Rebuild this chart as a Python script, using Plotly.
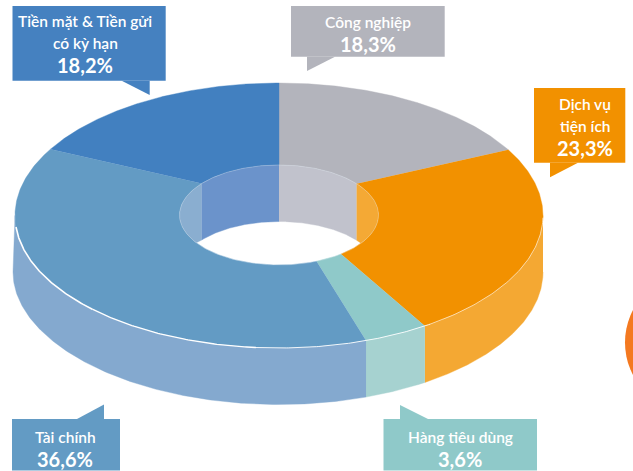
import numpy as np
import plotly.graph_objects as go

# Portfolio structure by sector (%)
categories = ["Công nghiệp", "Dịch vụ tiện ích", "Hàng tiêu dùng", "Tài chính", "Tiền mặt & Tiền gửi có kỳ hạn"]
shares = [18.3, 23.3, 3.6, 36.6, 18.2]
label_lines = [["Công nghiệp"], ["Dịch vụ", "tiện ích"], ["Hàng tiêu dùng"], ["Tài chính"], ["Tiền mặt & Tiền gửi", "có kỳ hạn"]]

top_colors = ["#B3B4BC", "#F29100", "#8FC9C9", "#639BC4", "#4280C0"]
side_colors = ["#C1C2CC", "#F4A833", "#A6D2D0", "#84A9CF", "#6B93CB"]
box_colors = ["#B3B4BC", "#F29100", "#8FC9C9", "#639BC4", "#4581C0"]

# Disc geometry in page pixels
CX, CY, RX, RY = 279.0, 215.5, 264.0, 132.5
HOLE_CY, HOLE_RX, HOLE_RY = 215.0, 99.5, 50.0
DEPTH = 56.5
TILT = 0.109  # how far the projected disc centre sits above the ellipse centre


def project(theta):
    """Clockwise angle from 12 o'clock -> point on the unit circle seen in perspective."""
    sx, sy = np.sin(theta), np.cos(theta)
    den = 1 + TILT * sy
    return sx * np.sqrt(1 - TILT ** 2) / den, (sy + TILT) / den


def outer_param(theta):
    u, v = project(theta)
    return np.unwrap(np.arctan2(u, v))


def hole_param(theta):
    """Spoke from the projected centre out to the rim, cut against the hole ellipse."""
    u, v = project(theta)
    dx, dy = u * RX, -v * RY + TILT * RY
    oy = (CY - TILT * RY) - HOLE_CY
    a = (dx / HOLE_RX) ** 2 + (dy / HOLE_RY) ** 2
    b = 2 * oy * dy / HOLE_RY ** 2
    c = (oy / HOLE_RY) ** 2 - 1
    s = (-b + np.sqrt(b * b - 4 * a * c)) / (2 * a)
    px, py = s * dx, oy + s * dy
    return np.unwrap(np.arctan2(px / HOLE_RX, -py / HOLE_RY))


def rim(t):
    return CX + RX * np.sin(t), CY - RY * np.cos(t)


def hole(t):
    return CX + HOLE_RX * np.sin(t), HOLE_CY - HOLE_RY * np.cos(t)


edges = np.deg2rad(np.cumsum([0] + shares) * 3.6)
rim_edges = outer_param(edges)
hole_edges = hole_param(edges)
rim_edges = rim_edges - rim_edges[0]
hole_edges = hole_edges - hole_edges[0]

fig = go.Figure()


def add_area(xs, ys, color, name):
    fig.add_trace(go.Scatter(x=xs, y=ys, mode="lines", fill="toself", fillcolor=color,
                             line=dict(color=color, width=0.4), name=name,
                             hoverinfo="name", showlegend=False))


# Outer wall: only the near half of the rim faces the viewer
for i, name in enumerate(categories):
    lo, hi = max(rim_edges[i], np.pi / 2), min(rim_edges[i + 1], 3 * np.pi / 2)
    if hi <= lo:
        continue
    t = np.linspace(lo, hi, 160)
    x, y = rim(t)
    # the lower edge flares out slightly on the far left
    flare = 2.0 * np.clip(-np.sin(t), 0, 1) ** 6
    add_area(np.r_[x, (x - flare)[::-1]], np.r_[y, y[::-1] + DEPTH], side_colors[i], name)

# Top face of the ring
for i, name in enumerate(categories):
    t_out = np.linspace(rim_edges[i], rim_edges[i + 1], 200)
    t_in = np.linspace(hole_edges[i + 1], hole_edges[i], 120)
    xo, yo = rim(t_out)
    xi, yi = hole(t_in)
    add_area(np.r_[xo, xi], np.r_[yo, yi], top_colors[i], name)

# Inner wall seen through the hole: the far half of the ellipse, cut by its own lower copy
wall_order = [(3, HOLE_RX * np.sin(hole_edges[4])), (4, 0.0),
              (0, HOLE_RX * np.sin(hole_edges[1])), (1, HOLE_RX)]
wall_colors = {0: "#C1C2CC", 1: "#F4A935", 3: "#8AAED0", 4: "#6B93CB"}
left = -HOLE_RX
for i, right in wall_order:
    dx = np.linspace(left, right, 120)
    half = HOLE_RY * np.sqrt(np.clip(1 - (dx / HOLE_RX) ** 2, 0, 1))
    upper = HOLE_CY - half
    lower = np.minimum(upper + DEPTH, HOLE_CY + half)
    add_area(np.r_[CX + dx, CX + dx[::-1]], np.r_[upper, lower[::-1]], wall_colors[i], categories[i])
    left = right

# Light highlights along the hole edge and the near rim (the rim line thins towards the right)
t = np.linspace(0, 2 * np.pi, 300)
hx, hy = hole(t)
fig.add_trace(go.Scatter(x=hx, y=hy, mode="lines", line=dict(color="rgba(225,238,242,0.45)", width=0.6),
                         hoverinfo="skip", showlegend=False))
for start, stop, width in [(265, 225, 1.6), (225, 185, 1.3), (185, 145, 0.9), (145, 91, 0.6)]:
    rx_, ry_ = rim(np.deg2rad(np.linspace(start, stop, 80)))
    fig.add_trace(go.Scatter(x=rx_, y=ry_, mode="lines", line=dict(color="white", width=width),
                             hoverinfo="skip", showlegend=False))

# Callout boxes: left, right, top, bottom and the tail's three corners
callouts = [
    (291, 444.7, 6, 56.7, [(307, 56.7), (307, 71), (335, 56.7)]),
    (534, 625.3, 88, 162.7, [(550, 162.7), (550, 177.3), (578, 162.7)]),
    (383.5, 537, 419, 470.5, [(400, 419), (400, 405), (428, 419)]),
    (12, 120, 419, 470.5, [(77, 419), (104, 404.5), (104, 419)]),
    (12.5, 165.7, 6, 80.7, [(121.7, 80.7), (149.7, 95), (149.7, 80.7)]),
]
# Vertical centre of each text row inside its box; the last row holds the percentage
text_rows = [[21.5, 43.5], [104, 126, 148], [437, 459], [437, 459], [21, 43, 65]]
text_mid_x = [368, 585, 460, 65, 85]

shapes, annotations = [], []
for i, (x0, x1, y0, y1, tail) in enumerate(callouts):
    shapes.append(dict(type="rect", xref="x", yref="y", x0=x0, x1=x1, y0=y0, y1=y1,
                       fillcolor=box_colors[i], line_width=0, layer="above"))
    path = "M " + " L ".join(f"{a},{b}" for a, b in tail) + " Z"
    shapes.append(dict(type="path", xref="x", yref="y", path=path,
                       fillcolor=box_colors[i], line_width=0, layer="above"))
    rows = text_rows[i]
    for line, yy in zip(label_lines[i], rows):
        annotations.append(dict(x=text_mid_x[i], y=yy, xref="x", yref="y", text=line, showarrow=False,
                                font=dict(family="Lato", size=15.5, color="white", weight=600)))
    annotations.append(dict(x=text_mid_x[i], y=rows[-1], xref="x", yref="y",
                            text=f"{shares[i]:.1f}".replace(".", ",") + "%", showarrow=False,
                            font=dict(family="Lato", size=20, color="white", weight=700)))

# Edge of a neighbouring graphic entering from the right
shapes.append(dict(type="circle", xref="x", yref="y", x0=625, x1=765, y0=272.5, y1=412.5,
                   fillcolor="#F47920", line_width=0, layer="above"))

fig.update_layout(
    width=633, height=471, margin=dict(l=0, r=0, t=0, b=0),
    paper_bgcolor="white", plot_bgcolor="white",
    xaxis=dict(range=[0, 633], visible=False, fixedrange=True),
    yaxis=dict(range=[471, 0], visible=False, fixedrange=True),
    shapes=shapes, annotations=annotations,
)
fig.write_html("out.html", config=dict(displayModeBar=False))
